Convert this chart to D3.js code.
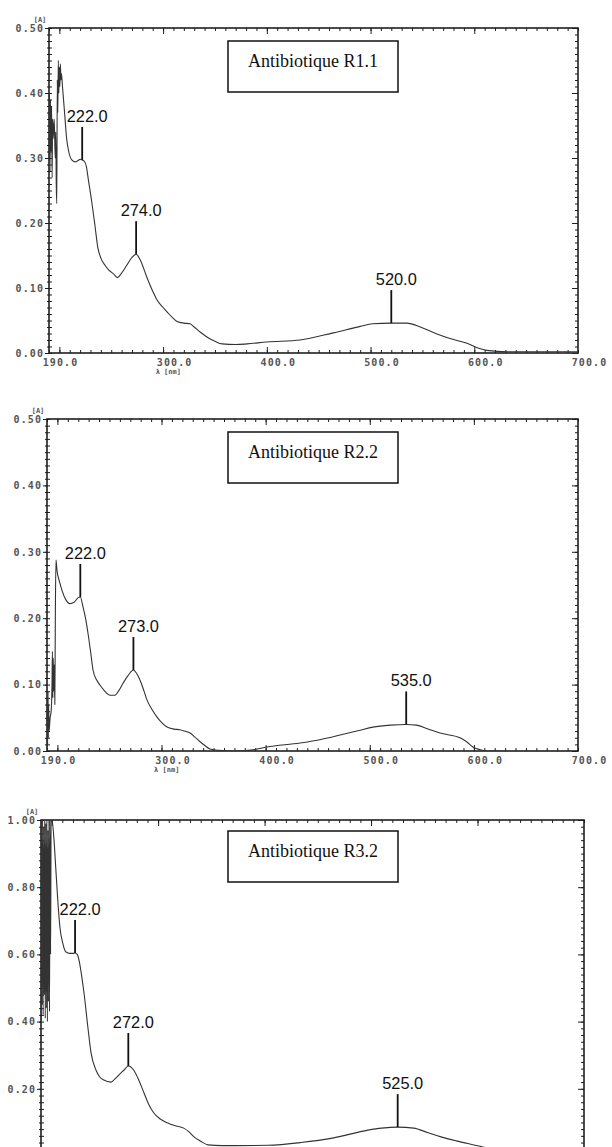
<!DOCTYPE html>
<html>
<head>
<meta charset="utf-8">
<script src="https://cdn.jsdelivr.net/npm/d3@7"></script>
<style>
  html, body { margin: 0; padding: 0; background: #fff; overflow: hidden; }
  svg { display: block; }
</style>
</head>
<body>
<svg id="chart" width="612" height="1147"></svg>
<script>
// ---- UV-Vis absorption spectra of three antibiotic extracts ----

const titles = ["Antibiotique R1.1", "Antibiotique R2.2", "Antibiotique R3.2"];

// Wavelength axis labels (nm) and absorbance labels [A]
const xTickLabels = [190, 300, 400, 500, 600, 700];
const xMajorTicks = [200, 300, 400, 500, 600];
const yTicksHalf = [0.0, 0.1, 0.2, 0.3, 0.4, 0.5];
const yTicksOne = [0.0, 0.2, 0.4, 0.6, 0.8, 1.0];

// Spectrum R1.1
const nmR11 = [190.0, 190.5, 191.0, 191.5, 192.0, 192.5, 193.0, 193.5, 194.0, 195.0, 196.0, 196.5, 197.0, 197.5,
  198.0, 198.5, 199.0, 199.5, 200.0, 200.5, 201.0, 201.5, 202.0, 203.0, 205.0, 207.0, 209.0, 212.0, 215.0,
  218.0, 220.0, 222.0, 224.0, 226.0, 228.0, 231.0, 234.0, 237.0, 240.0, 244.0, 248.0, 252.0, 256.0, 260.0,
  265.0, 270.0, 274.0, 278.0, 284.0, 290.0, 294.0, 300.0, 304.0, 310.0, 314.0, 320.0, 326.0, 330.0, 336.0,
  345.0, 350.0, 357.0, 370.0, 381.0, 400.0, 432.0, 464.0, 490.0, 502.0, 520.0, 535.0, 548.0, 560.0, 575.0,
  593.0, 605.0, 612.0, 632.0, 660.0, 690.0, 700.0];
const absR11 = [0.30, 0.40, 0.28, 0.39, 0.31, 0.38, 0.27, 0.36, 0.33, 0.36, 0.30, 0.34, 0.26, 0.23,
  0.42, 0.37, 0.45, 0.40, 0.44, 0.41, 0.445, 0.42, 0.43, 0.41, 0.37, 0.33, 0.31, 0.297, 0.294,
  0.296, 0.298, 0.297, 0.295, 0.287, 0.266, 0.235, 0.200, 0.163, 0.146, 0.135, 0.127, 0.122, 0.116, 0.123,
  0.135, 0.147, 0.152, 0.143, 0.118, 0.095, 0.082, 0.070, 0.063, 0.053, 0.048, 0.046, 0.045, 0.040, 0.032,
  0.022, 0.018, 0.014, 0.013, 0.014, 0.017, 0.020, 0.031, 0.041, 0.045, 0.046, 0.046, 0.040, 0.032, 0.023,
  0.015, 0.007, 0.004, 0.002, 0.002, 0.002, 0.002];
const peaksR11 = [222.0, 274.0, 520.0];

// Spectrum R2.2
const nmR22 = [190.0, 190.3, 190.6, 191.0, 191.3, 191.6, 192.0, 193.0, 194.0, 194.8, 195.2, 195.6, 196.0, 196.5,
  197.0, 197.5, 198.0, 198.6, 199.6, 202.0, 204.4, 208.0, 212.0, 216.0, 220.0, 222.0, 224.6, 227.0, 229.4,
  232.0, 234.2, 238.0, 241.0, 245.0, 250.5, 255.3, 259.0, 263.0, 268.0, 273.0, 276.0, 279.3, 283.0, 286.0,
  291.0, 295.7, 300.0, 305.3, 312.0, 317.8, 322.0, 327.4, 332.0, 337.0, 341.0, 346.6, 355.0, 368.7, 388.0,
  401.0, 433.0, 452.0, 471.5, 490.0, 503.0, 520.0, 535.0, 545.0, 556.0, 567.5, 586.7, 593.0, 599.0, 606.0,
  612.7, 625.0];
const absR22 = [0.000, 0.080, 0.010, 0.090, 0.020, 0.070, 0.030, 0.050, 0.060, 0.100, 0.150, 0.080, 0.140, 0.090,
  0.130, 0.070, 0.200, 0.288, 0.272, 0.255, 0.242, 0.228, 0.222, 0.224, 0.231, 0.232, 0.217, 0.200, 0.177,
  0.148, 0.122, 0.106, 0.099, 0.091, 0.084, 0.084, 0.091, 0.102, 0.114, 0.122, 0.117, 0.107, 0.091, 0.077,
  0.062, 0.051, 0.043, 0.036, 0.033, 0.032, 0.030, 0.027, 0.021, 0.014, 0.009, 0.003, 0.001, 0.000, 0.002,
  0.006, 0.012, 0.017, 0.024, 0.031, 0.036, 0.039, 0.040, 0.039, 0.033, 0.027, 0.020, 0.014, 0.006, 0.002,
  0.000, 0.000];
const peaksR22 = [222.0, 273.0, 535.0];

// Spectrum R3.2
const nmR32 = [190.0, 190.5, 191.0, 191.5, 192.0, 192.5, 193.0, 193.5, 194.0, 194.5, 195.0, 195.5, 196.0, 196.5,
  197.0, 197.5, 198.0, 198.5, 199.0, 199.5, 200.3, 202.0, 204.0, 206.0, 207.8, 210.7, 213.5, 217.0, 220.0,
  222.0, 224.0, 225.7, 228.0, 230.4, 234.0, 237.0, 241.6, 245.0, 249.0, 255.7, 259.0, 263.0, 268.0, 272.0,
  277.0, 282.0, 286.7, 291.0, 296.0, 302.0, 309.0, 316.0, 324.0, 329.0, 333.7, 340.0, 346.8, 360.0, 371.0,
  403.0, 434.0, 465.0, 497.0, 510.0, 525.0, 540.0, 553.0, 565.6, 580.0, 596.6, 615.0, 640.0, 670.0, 700.0];
const absR32 = [0.40, 1.00, 0.45, 1.00, 0.42, 0.98, 0.48, 1.00, 0.41, 0.99, 0.44, 1.00, 0.40, 0.97,
  0.46, 1.00, 0.43, 1.00, 0.60, 1.00, 1.00, 0.95, 0.85, 0.75, 0.68, 0.63, 0.607, 0.603, 0.603,
  0.604, 0.600, 0.583, 0.540, 0.485, 0.384, 0.307, 0.256, 0.236, 0.226, 0.220, 0.228, 0.241, 0.256, 0.268,
  0.256, 0.225, 0.188, 0.155, 0.128, 0.110, 0.098, 0.090, 0.083, 0.072, 0.057, 0.044, 0.033, 0.031, 0.031,
  0.032, 0.040, 0.054, 0.077, 0.083, 0.086, 0.083, 0.070, 0.057, 0.045, 0.033, 0.020, 0.010, 0.005, 0.004];
const peaksR32 = [222.0, 272.0, 525.0];

// ---- layout of the three stacked plots (the last one runs past the page bottom) ----
const pageHeight = 1147;
const panels = [
  { title: titles[0], nm: nmR11, abs: absR11, peaks: peaksR11, yMax: 0.5, yTicks: yTicksHalf,
    left: 49, right: 578, top: 28, bottom: 353, boxY: 41 },
  { title: titles[1], nm: nmR22, abs: absR22, peaks: peaksR22, yMax: 0.5, yTicks: yTicksHalf,
    left: 47, right: 578, top: 419, bottom: 751, boxY: 432 },
  { title: titles[2], nm: nmR32, abs: absR32, peaks: peaksR32, yMax: 1.0, yTicks: yTicksOne,
    left: 41, right: 584, top: 820, bottom: 1156, boxY: 831 }
];

const svg = d3.select("#chart");
const monoFont = "'DejaVu Sans Mono', 'Liberation Mono', monospace";
const axisInk = "#1e1e1e";
const labelInk = "#555";

// absorbance at a wavelength, linear between the sampled points
function absAt(nm, abs, w) {
  const i = d3.bisectLeft(nm, w);
  if (i <= 0) return abs[0];
  if (i >= nm.length) return abs[abs.length - 1];
  const t = (w - nm[i - 1]) / (nm[i] - nm[i - 1]);
  return abs[i - 1] + t * (abs[i] - abs[i - 1]);
}

function tidy(sel) {
  sel.select(".domain").remove();
  sel.selectAll(".tick line").attr("stroke", axisInk).attr("stroke-width", 1);
}

function styleTickText(sel) {
  sel.attr("font-family", monoFont).attr("font-size", 10).attr("font-weight", "bold")
    .attr("letter-spacing", 1.1).attr("fill", labelInk);
}

panels.forEach((p, k) => {
  const g = svg.append("g");
  const x = d3.scaleLinear().domain([190, 700]).range([p.left, p.right]);
  const y = d3.scaleLinear().domain([0, p.yMax]).range([p.bottom, p.top]);
  const minorX = x.ticks(51);
  const minorY = y.ticks(50);
  const bottomVisible = p.bottom + 15 < pageHeight;

  const clipId = "plot-clip-" + k;
  svg.append("clipPath").attr("id", clipId)
    .append("rect")
    .attr("x", p.left).attr("y", p.top)
    .attr("width", p.right - p.left).attr("height", p.bottom - p.top);

  // minor and major ticks on all four sides, pointing inward
  g.append("g").attr("transform", `translate(0,${p.top})`)
    .call(d3.axisBottom(x).tickValues(minorX).tickSize(3).tickFormat("")).call(tidy);
  g.append("g").attr("transform", `translate(0,${p.top})`)
    .call(d3.axisBottom(x).tickValues(xMajorTicks).tickSize(6).tickFormat("")).call(tidy);
  g.append("g").attr("transform", `translate(0,${p.bottom})`)
    .call(d3.axisTop(x).tickValues(minorX).tickSize(3).tickFormat("")).call(tidy);
  g.append("g").attr("transform", `translate(0,${p.bottom})`)
    .call(d3.axisTop(x).tickValues(xMajorTicks).tickSize(6).tickFormat("")).call(tidy);
  g.append("g").attr("transform", `translate(${p.left},0)`)
    .call(d3.axisRight(y).tickValues(minorY).tickSize(3).tickFormat("")).call(tidy);
  g.append("g").attr("transform", `translate(${p.left},0)`)
    .call(d3.axisLeft(y).tickValues(minorY).tickSize(2).tickFormat("")).call(tidy);
  g.append("g").attr("transform", `translate(${p.left},0)`)
    .call(d3.axisLeft(y).tickValues(p.yTicks).tickSize(4).tickFormat("")).call(tidy);
  g.append("g").attr("transform", `translate(${p.right},0)`)
    .call(d3.axisLeft(y).tickValues(minorY).tickSize(3).tickFormat("")).call(tidy);
  g.append("g").attr("transform", `translate(${p.right},0)`)
    .call(d3.axisLeft(y).tickValues(p.yTicks).tickSize(6).tickFormat("")).call(tidy);

  // frame
  g.append("rect")
    .attr("x", p.left).attr("y", p.top)
    .attr("width", p.right - p.left).attr("height", p.bottom - p.top)
    .attr("fill", "none").attr("stroke", axisInk).attr("stroke-width", 1.6);

  // absorbance tick labels (only those that land on the page)
  const yLabelTicks = p.yTicks.filter(v => y(v) < pageHeight - 8);
  const yLab = g.append("g").attr("transform", `translate(${p.left},0)`)
    .call(d3.axisLeft(y).tickValues(yLabelTicks).tickSize(0).tickPadding(5).tickFormat(d3.format(".2f")));
  yLab.select(".domain").remove();
  yLab.selectAll("text").call(styleTickText);

  if (bottomVisible) {
    // wavelength tick labels
    const xLab = g.append("g").attr("transform", `translate(0,${p.bottom})`)
      .call(d3.axisBottom(x).tickValues(xTickLabels).tickSize(0).tickPadding(6).tickFormat(d3.format(".1f")));
    xLab.select(".domain").remove();
    xLab.selectAll("text").attr("dx", 11).call(styleTickText);

    g.append("text")
      .attr("x", x(305)).attr("y", p.bottom + 21)
      .attr("text-anchor", "middle")
      .attr("font-family", monoFont).attr("font-size", 7).attr("font-weight", "bold")
      .attr("fill", labelInk).text("λ  [nm]");
  }

  // absorbance unit
  g.append("text")
    .attr("x", p.left - 9).attr("y", p.top - 6)
    .attr("text-anchor", "middle")
    .attr("font-family", monoFont).attr("font-size", 7).attr("font-weight", "bold")
    .attr("fill", labelInk).text("[A]");

  // spectrum
  const line = d3.line()
    .x((d, i) => x(p.nm[i]))
    .y((d, i) => y(p.abs[i]))
    .curve(d3.curveMonotoneX);
  g.append("path")
    .datum(p.nm)
    .attr("clip-path", `url(#${clipId})`)
    .attr("d", line)
    .attr("fill", "none")
    .attr("stroke", "#333")
    .attr("stroke-width", 1.1);

  // peak markers with wavelength labels
  p.peaks.forEach(w => {
    const a = absAt(p.nm, p.abs, w);
    const px = x(w), py = y(a);
    g.append("line")
      .attr("x1", px).attr("x2", px)
      .attr("y1", py).attr("y2", py - 33)
      .attr("stroke", "#111").attr("stroke-width", 1.8);
    g.append("text")
      .attr("x", px + 5).attr("y", py - 38)
      .attr("text-anchor", "middle")
      .attr("font-family", "'Liberation Sans', Arial, sans-serif")
      .attr("font-size", 17)
      .attr("textLength", 41).attr("lengthAdjust", "spacingAndGlyphs")
      .attr("fill", "#111")
      .text(d3.format(".1f")(w));
  });

  // sample title box
  const boxX = 228, boxW = 170, boxH = 51;
  g.append("rect")
    .attr("x", boxX).attr("y", p.boxY)
    .attr("width", boxW).attr("height", boxH)
    .attr("fill", "#fff").attr("stroke", "#111").attr("stroke-width", 1.5);
  g.append("text")
    .attr("x", boxX + boxW / 2).attr("y", p.boxY + 26)
    .attr("text-anchor", "middle")
    .attr("font-family", "'Liberation Serif', 'Times New Roman', serif")
    .attr("font-size", 18)
    .attr("fill", "#111")
    .text(p.title);
});
</script>
</body>
</html>
